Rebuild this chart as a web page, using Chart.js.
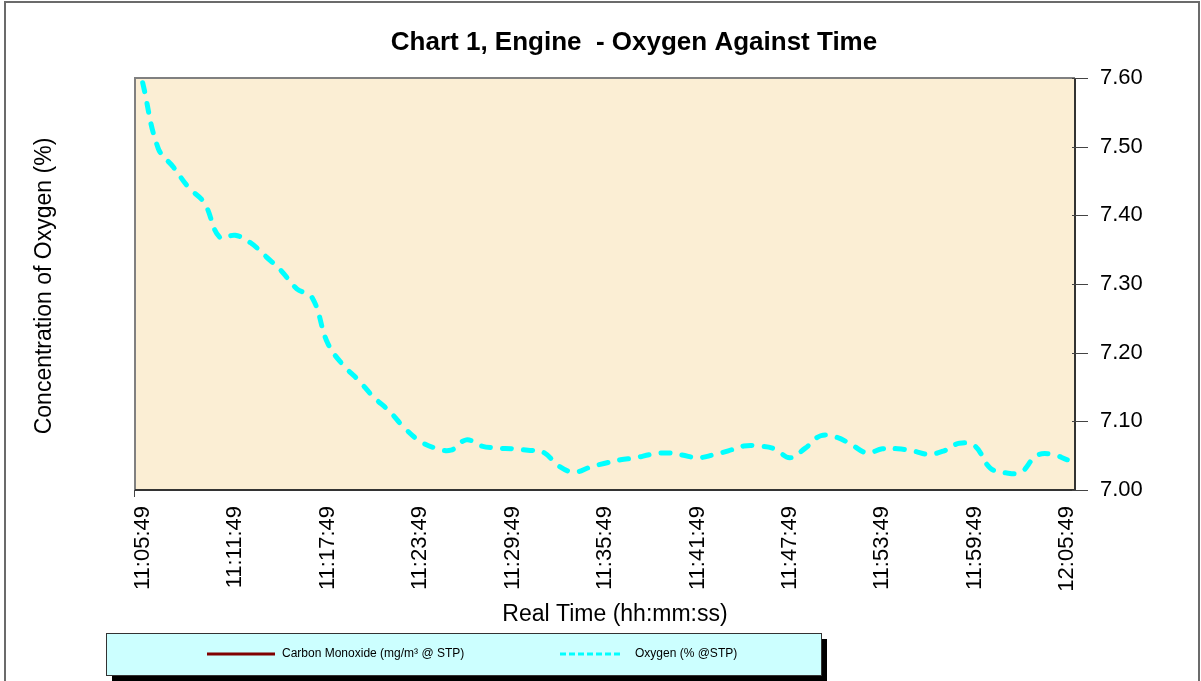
<!DOCTYPE html>
<html>
<head>
<meta charset="utf-8">
<title>Chart 1, Engine - Oxygen Against Time</title>
<script src="https://cdn.jsdelivr.net/npm/chart.js@4.4.1/dist/chart.umd.min.js"></script>
<style>
  body { margin: 0; background: #fff; }
  #wrap { width: 1201px; height: 681px; position: relative; }
</style>
</head>
<body>
<div id="wrap"><canvas id="oxygenChart"></canvas></div>
<script>
// Sample times, one reading per minute
const times = [
  "11:05:49", "11:06:49", "11:07:49", "11:08:49", "11:09:49", "11:10:49",
  "11:11:49", "11:12:49", "11:13:49", "11:14:49", "11:15:49", "11:16:49",
  "11:17:49", "11:18:49", "11:19:49", "11:20:49", "11:21:49", "11:22:49",
  "11:23:49", "11:24:49", "11:25:49", "11:26:49", "11:27:49", "11:28:49",
  "11:29:49", "11:30:49", "11:31:49", "11:32:49", "11:33:49", "11:34:49",
  "11:35:49", "11:36:49", "11:37:49", "11:38:49", "11:39:49", "11:40:49",
  "11:41:49", "11:42:49", "11:43:49", "11:44:49", "11:45:49", "11:46:49",
  "11:47:49", "11:48:49", "11:49:49", "11:50:49", "11:51:49", "11:52:49",
  "11:53:49", "11:54:49", "11:55:49", "11:56:49", "11:57:49", "11:58:49",
  "11:59:49", "12:00:49", "12:01:49", "12:02:49", "12:03:49", "12:04:49",
  "12:05:49",
];

// Oxygen (% @STP)
const oxygen = [
  7.593, 7.498, 7.47, 7.44, 7.418, 7.368, 7.371, 7.36, 7.34, 7.319,
  7.293, 7.28, 7.214, 7.182, 7.16, 7.135, 7.115, 7.09, 7.071, 7.061,
  7.058, 7.073, 7.064, 7.061, 7.06, 7.058, 7.055, 7.035, 7.026, 7.033,
  7.039, 7.044, 7.047, 7.052, 7.054, 7.051, 7.047, 7.051, 7.057, 7.064,
  7.064, 7.06, 7.047, 7.061, 7.079, 7.077, 7.066, 7.054, 7.06, 7.06,
  7.057, 7.052, 7.057, 7.068, 7.064, 7.032, 7.025, 7.026, 7.05, 7.052,
  7.044,
];

// Carbon monoxide is listed in the legend but has no points on this chart
const carbonMonoxide = [];

const yMin = 7.0;
const yMax = 7.6;
const yStep = 0.1;
const labelEvery = 6;

const FONT = '"Liberation Sans", Arial, sans-serif';
const plotFill = "#fbeed4";

// Background, frame, borders, titles and the boxed legend
const decorPlugin = {
  id: "decor",
  beforeDraw(chart) {
    const { ctx, chartArea: a } = chart;
    ctx.save();
    ctx.fillStyle = "#fff";
    ctx.fillRect(0, 0, chart.width, chart.height);
    ctx.strokeStyle = "#6b6b6b";
    ctx.lineWidth = 2;
    ctx.strokeRect(5, 2, 1194, 720);
    ctx.fillStyle = plotFill;
    ctx.fillRect(a.left, a.top, a.right - a.left, a.bottom - a.top);
    ctx.restore();
  },
  afterDraw(chart) {
    const { ctx, chartArea: a } = chart;
    const y = chart.scales.y;
    ctx.save();

    // plot border
    ctx.lineWidth = 2;
    ctx.strokeStyle = "#808080";
    ctx.beginPath();
    ctx.moveTo(a.left, a.bottom);
    ctx.lineTo(a.left, a.top);
    ctx.lineTo(a.right, a.top);
    ctx.stroke();
    ctx.strokeStyle = "#333";
    ctx.beginPath();
    ctx.moveTo(a.right, a.top);
    ctx.lineTo(a.right, a.bottom);
    ctx.lineTo(a.left, a.bottom);
    ctx.stroke();

    // y tick marks crossing the right axis
    ctx.lineWidth = 1;
    ctx.strokeStyle = "#444";
    y.ticks.forEach((t) => {
      const py = Math.round(y.getPixelForValue(t.value)) + 0.5;
      ctx.beginPath();
      ctx.moveTo(a.right - 3, py);
      ctx.lineTo(a.right + 13, py);
      ctx.stroke();
    });
    ctx.beginPath();
    ctx.moveTo(a.left - 0.5, a.bottom);
    ctx.lineTo(a.left - 0.5, a.bottom + 7);
    ctx.stroke();

    // titles
    ctx.fillStyle = "#000";
    ctx.textAlign = "center";
    ctx.textBaseline = "middle";
    ctx.font = "bold 26px " + FONT;
    ctx.fillText("Chart 1, Engine  - Oxygen Against Time", 634, 43);
    ctx.font = "23px " + FONT;
    ctx.fillText("Real Time (hh:mm:ss)", 615, 615);
    ctx.save();
    ctx.translate(45, 286);
    ctx.rotate(-Math.PI / 2);
    ctx.fillText("Concentration of Oxygen (%)", 0, 0);
    ctx.restore();

    // legend box with drop shadow
    const lx = 106, ly = 633, lw = 715, lh = 42;
    ctx.fillStyle = "#000";
    ctx.fillRect(lx + 6, ly + 6, lw, lh);
    ctx.fillStyle = "#ccffff";
    ctx.fillRect(lx, ly, lw, lh);
    ctx.strokeStyle = "#333";
    ctx.lineWidth = 1;
    ctx.strokeRect(lx + 0.5, ly + 0.5, lw, lh);

    const items = [
      { ds: chart.data.datasets[1], x: 207, w: 68, tx: 282 },
      { ds: chart.data.datasets[0], x: 560, w: 60, tx: 635 },
    ];
    const cy = ly + 21;
    items.forEach((it) => {
      ctx.strokeStyle = it.ds.borderColor;
      ctx.lineWidth = 3;
      ctx.lineCap = "butt";
      ctx.setLineDash(it.ds.borderDash && it.ds.borderDash.length ? [6, 3] : []);
      ctx.beginPath();
      ctx.moveTo(it.x, cy);
      ctx.lineTo(it.x + it.w, cy);
      ctx.stroke();
      ctx.setLineDash([]);
      ctx.fillStyle = "#000";
      ctx.textAlign = "left";
      ctx.font = "12px " + FONT;
      ctx.fillText(it.ds.label, it.tx, cy);
    });

    ctx.restore();
  },
};

const ctx = document.getElementById("oxygenChart").getContext("2d");
const oxygenChart = new Chart(ctx, {
  type: "line",
  data: {
    labels: times,
    datasets: [
      {
        label: "Oxygen (% @STP)",
        data: oxygen,
        borderColor: "#00ffff",
        borderWidth: 5,
        borderDash: [9, 12],
        borderCapStyle: "round",
        tension: 0.4,
        pointRadius: 0,
        fill: false,
      },
      {
        label: "Carbon Monoxide (mg/m³ @ STP)",
        data: carbonMonoxide,
        borderColor: "#800000",
        borderWidth: 3,
        borderDash: [],
        pointRadius: 0,
      },
    ],
  },
  options: {
    responsive: true,
    maintainAspectRatio: false,
    animation: false,
    layout: { padding: { left: 135, top: 78, right: 0, bottom: 0 } },
    plugins: {
      legend: { display: false },
      title: { display: false },
      tooltip: { enabled: false },
    },
    scales: {
      x: {
        type: "category",
        offset: true,
        grid: { display: false, drawTicks: false },
        border: { display: false },
        ticks: {
          autoSkip: false,
          maxRotation: 90,
          minRotation: 90,
          padding: 16,
          color: "#000",
          font: { family: FONT, size: 22 },
          callback: function (value, index) {
            return index % labelEvery === 0 ? this.getLabelForValue(value) : "";
          },
        },
        afterFit: (scale) => {
          scale.height = 191;
        },
      },
      y: {
        position: "right",
        min: yMin,
        max: yMax,
        grid: { display: false, drawTicks: false },
        border: { display: false },
        ticks: {
          stepSize: yStep,
          padding: 25,
          color: "#000",
          font: { family: FONT, size: 22 },
          callback: (v) => Number(v).toFixed(2),
        },
        afterFit: (scale) => {
          scale.width = 126;
        },
      },
    },
  },
  plugins: [decorPlugin],
});
</script>
</body>
</html>
